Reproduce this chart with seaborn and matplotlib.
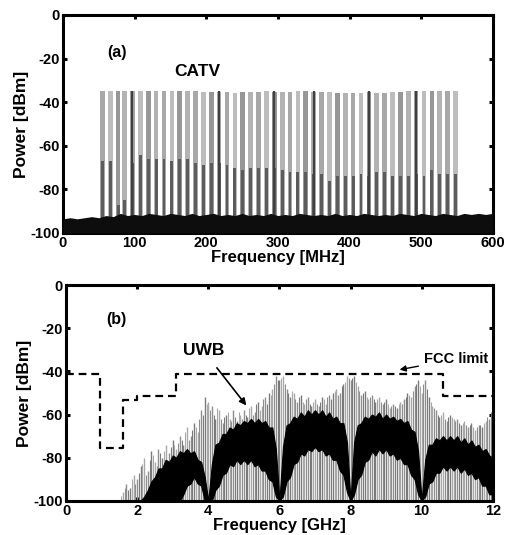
import numpy as np
import matplotlib
matplotlib.use("Agg")
import matplotlib.pyplot as plt
import seaborn as sns

#### DATA ####

# panel (a): CATV carriers, MHz / dBm
catv_freq = [55, 66, 77, 86, 97, 108, 119, 130, 141, 152, 163, 174, 185, 196, 207,
             218, 229, 240, 251, 262, 273, 284, 295, 306, 317, 328, 339, 350, 361,
             372, 383, 394, 405, 416, 427, 438, 449, 460, 471, 482, 493, 504, 515,
             526, 537, 548]
catv_peak = [-35, -35, -35, -35, -35, -35, -35, -35, -35, -35, -35, -35, -35, -35.5, -35.5,
             -35.5, -35.5, -36, -35.5, -35.5, -35.5, -35, -35.5, -35.5, -35.5, -35, -35, -35.5, -35.5,
             -35.5, -36, -36, -36, -36, -35.5, -36, -36, -35.5, -35.5, -35, -35, -35, -35,
             -35, -35, -35]
catv_im = [-67, -67, -87, -85, -68, -64, -66, -66, -66, -67, -66, -66, -68, -69, -68,
           -68, -69, -70, -71, -70, -70, -70, -70, -71, -72, -72, -72, -73, -73,
           -76, -74, -74, -74, -73, -74, -72, -72, -74, -74, -74, -73, -74, -71,
           -73, -73, -73]
dark_lines = [97, 218, 295, 350, 427, 493]

floor_freq = np.arange(0, 601, 10)
floor_level = [-93.5, -93, -93.5, -93, -92.5, -93,
               -92, -92.5, -91, -92, -91.5, -92, -91, -91.5, -92, -91,
               -91.5, -92, -91, -92, -91.5, -91, -92, -91.5, -92, -91,
               -92, -91.5, -92, -91, -92, -91.5, -92, -91, -91.5, -92,
               -91.5, -92, -91, -92, -91.5, -92, -91, -91.5, -92, -91.5,
               -92, -91, -91.5, -92, -91, -91.5, -92, -91, -91.5, -92,
               -91, -91.5, -91, -91.5, -91]

# panel (b): UWB spectrum sampled every 0.1 GHz from 1.5 to 12.0
uwb_freq = np.round(np.arange(1.5, 12.01, 0.1), 1)
uwb_spike = [-100, -96, -92, -94, -88,
             -90, -84, -80, -86, -77, -82, -76, -80, -74, -78,
             -72, -76, -70, -74, -66, -70, -64, -68, -58, -52,
             -54, -56, -62, -58, -64, -60, -62, -58, -63, -60,
             -58, -61, -56, -59, -54, -56, -52, -50, -48, -42,
             -44, -42, -48, -52, -50, -54, -51, -55, -52, -56,
             -53, -56, -52, -55, -51, -50, -48, -50, -46, -42,
             -44, -42, -47, -51, -49, -53, -51, -54, -52, -55,
             -53, -57, -55, -57, -54, -53, -50, -52, -47, -44,
             -50, -44, -52, -56, -58, -61, -59, -63, -60, -62,
             -62, -65, -63, -66, -64, -67, -65, -66, -63, -62,
             -57]
# spikes half-way between the grid points (1.55 ... 11.95 GHz)
uwb_freq_mid = np.round(np.arange(1.55, 12.0, 0.1), 2)
uwb_spike_mid = [-98, -94, -95, -90, -92,
                 -87, -83, -88, -81, -79, -84, -78, -77, -81, -75,
                 -74, -73, -72, -68, -72, -67, -66, -62, -60, -55,
                 -58, -60, -57, -62, -61, -59, -63, -61, -59, -62,
                 -60, -57, -60, -55, -58, -53, -55, -51, -46, -44,
                 -43, -46, -50, -49, -53, -52, -54, -53, -55, -54,
                 -55, -54, -53, -52, -53, -49, -51, -47, -45, -43,
                 -43, -45, -49, -50, -52, -52, -53, -53, -54, -54,
                 -55, -56, -56, -55, -55, -52, -51, -49, -46, -47,
                 -46, -48, -54, -57, -60, -60, -62, -61, -61, -63,
                 -64, -64, -65, -65, -66, -66, -65, -64, -61, -59]
uwb_top = [-100, -100, -100, -100, -100,
           -100, -100, -98, -95, -91, -89, -85, -85, -81, -82,
           -79, -80, -77, -78, -76, -78, -77, -81, -82, -89,
           -100, -83, -74, -73, -69, -69, -66, -67, -64, -65,
           -63, -64, -62, -64, -62, -64, -63, -66, -66, -76,
           -100, -75, -65, -64, -61, -62, -59, -61, -58, -60,
           -58, -60, -58, -61, -59, -62, -61, -64, -64, -73,
           -100, -73, -65, -64, -61, -62, -60, -61, -59, -62,
           -60, -62, -61, -63, -62, -64, -63, -67, -68, -77,
           -100, -81, -74, -74, -71, -72, -70, -72, -70, -72,
           -70, -73, -71, -74, -72, -75, -74, -77, -76, -79,
           -80]
uwb_bottom = [-100, -100, -100, -100, -100,
              -100, -100, -100, -100, -100, -100, -100, -100, -100, -100,
              -100, -100, -100, -97, -93, -92, -89, -92, -93, -100,
              -100, -100, -95, -93, -88, -87, -83, -84, -81, -83,
              -81, -83, -81, -84, -83, -86, -86, -90, -91, -98,
              -100, -98, -91, -89, -83, -82, -78, -79, -76, -77,
              -75, -77, -76, -79, -78, -81, -81, -86, -88, -96,
              -100, -97, -90, -88, -82, -81, -77, -79, -76, -78,
              -76, -79, -78, -81, -80, -83, -83, -88, -90, -97,
              -100, -98, -92, -91, -87, -87, -84, -86, -84, -86,
              -84, -87, -85, -88, -87, -90, -89, -93, -93, -97,
              -97]

fcc_freq = [0, 0.96, 1.61, 1.99, 3.1, 10.6, 12]
fcc_level = [-41.3, -75.3, -53.3, -51.3, -41.3, -51.3, -51.3]

#### STYLE ####
sns.set_theme(style="ticks")
plt.rcParams['font.family'] = ['Liberation Sans', 'DejaVu Sans']
plt.rcParams['font.weight'] = 'bold'
plt.rcParams['axes.labelweight'] = 'bold'
plt.rcParams['axes.unicode_minus'] = False
for key in ['text.color', 'axes.labelcolor', 'xtick.color', 'ytick.color']:
    plt.rcParams[key] = 'black'

fig = plt.figure(figsize=(5.08, 5.35), dpi=100)
ax1 = fig.add_axes([0.124, 0.5645, 0.846, 0.4075])
ax2 = fig.add_axes([0.130, 0.064, 0.840, 0.403])


def matlab_box(ax):
    for sp in ax.spines.values():
        sp.set_linewidth(2.2)
        sp.set_color('black')
    ax.tick_params(direction='in', length=3, width=2.2, top=True, right=True,
                   labelsize=10.5, colors='black')
    ax.tick_params(axis='x', pad=2.5)
    ax.tick_params(axis='y', pad=2.5)
    for lab in ax.get_xticklabels() + ax.get_yticklabels():
        lab.set_fontweight('bold')


#### (a) CATV ####
light = ['#a8a8a8', '#bdbdbd', '#979797', '#b3b3b3']
for i, (f, p, m) in enumerate(zip(catv_freq, catv_peak, catv_im)):
    ax1.bar(f, p + 100, bottom=-100, width=6.5, color=light[i % 4], linewidth=0, zorder=2)
    ax1.bar(f, m + 100, bottom=-100, width=4.0, color='#5c5c5c', linewidth=0, zorder=3)
for f in dark_lines:
    ax1.vlines(f, -100, -35, color='#404040', lw=1.6, zorder=3)
ax1.fill_between(floor_freq, -100, floor_level, color='#0d0d0d', lw=0, zorder=4)

ax1.set_xlim(0, 600)
ax1.set_ylim(-100, 0)
ax1.set_xticks(range(0, 601, 100))
ax1.set_yticks(range(-100, 1, 20))
ax1.set_xlabel('Frequency [MHz]', fontsize=12, labelpad=0)
ax1.set_ylabel('Power [dBm]', fontsize=12.5, labelpad=1)
ax1.text(62, -17.4, '(a)', fontsize=11.5, fontweight='bold', va='center')
ax1.text(187, -26, 'CATV', fontsize=12.5, fontweight='bold', ha='center', va='center')
matlab_box(ax1)

#### (b) UWB ####
greys = ['#7a7a7a', '#a8a8a8', '#8e8e8e']
ax2.vlines(uwb_freq, -100, uwb_spike,
           colors=[greys[i % 3] for i in range(len(uwb_freq))], lw=1.0, zorder=2)
ax2.vlines(uwb_freq_mid, -100, uwb_spike_mid,
           colors=[greys[(i + 1) % 3] for i in range(len(uwb_freq_mid))], lw=0.8, zorder=2)
ax2.fill_between(uwb_freq, uwb_bottom, uwb_top, color='black', lw=0.8, zorder=3)
sns.lineplot(x=fcc_freq, y=fcc_level, ax=ax2, color='black', lw=1.6,
             drawstyle='steps-post', dashes=(3.5, 2.2), zorder=4)

ax2.set_xlim(0, 12)
ax2.set_ylim(-100, 0)
ax2.set_xticks(range(0, 13, 2))
ax2.set_yticks(range(-100, 1, 20))
ax2.set_xlabel('Frequency [GHz]', fontsize=12, labelpad=0)
ax2.set_ylabel('Power [dBm]', fontsize=12.5, labelpad=1)
ax2.text(1.42, -15.8, '(b)', fontsize=11.5, fontweight='bold', va='center', ha='center')
ax2.annotate('UWB', xy=(5.07, -55.8), xytext=(3.86, -30.3), fontsize=12.5,
             fontweight='bold', ha='center', va='center',
             arrowprops=dict(arrowstyle='-|>', color='black', lw=1.2,
                             shrinkA=6, shrinkB=0, mutation_scale=10))
ax2.annotate('FCC limit', xy=(9.38, -39.2), xytext=(10.08, -34.3), fontsize=10.5,
             fontweight='bold', ha='left', va='center',
             arrowprops=dict(arrowstyle='-|>', color='black', lw=1.0,
                             shrinkA=2, shrinkB=0, mutation_scale=9))
matlab_box(ax2)

fig.savefig('out.png', dpi=100)
